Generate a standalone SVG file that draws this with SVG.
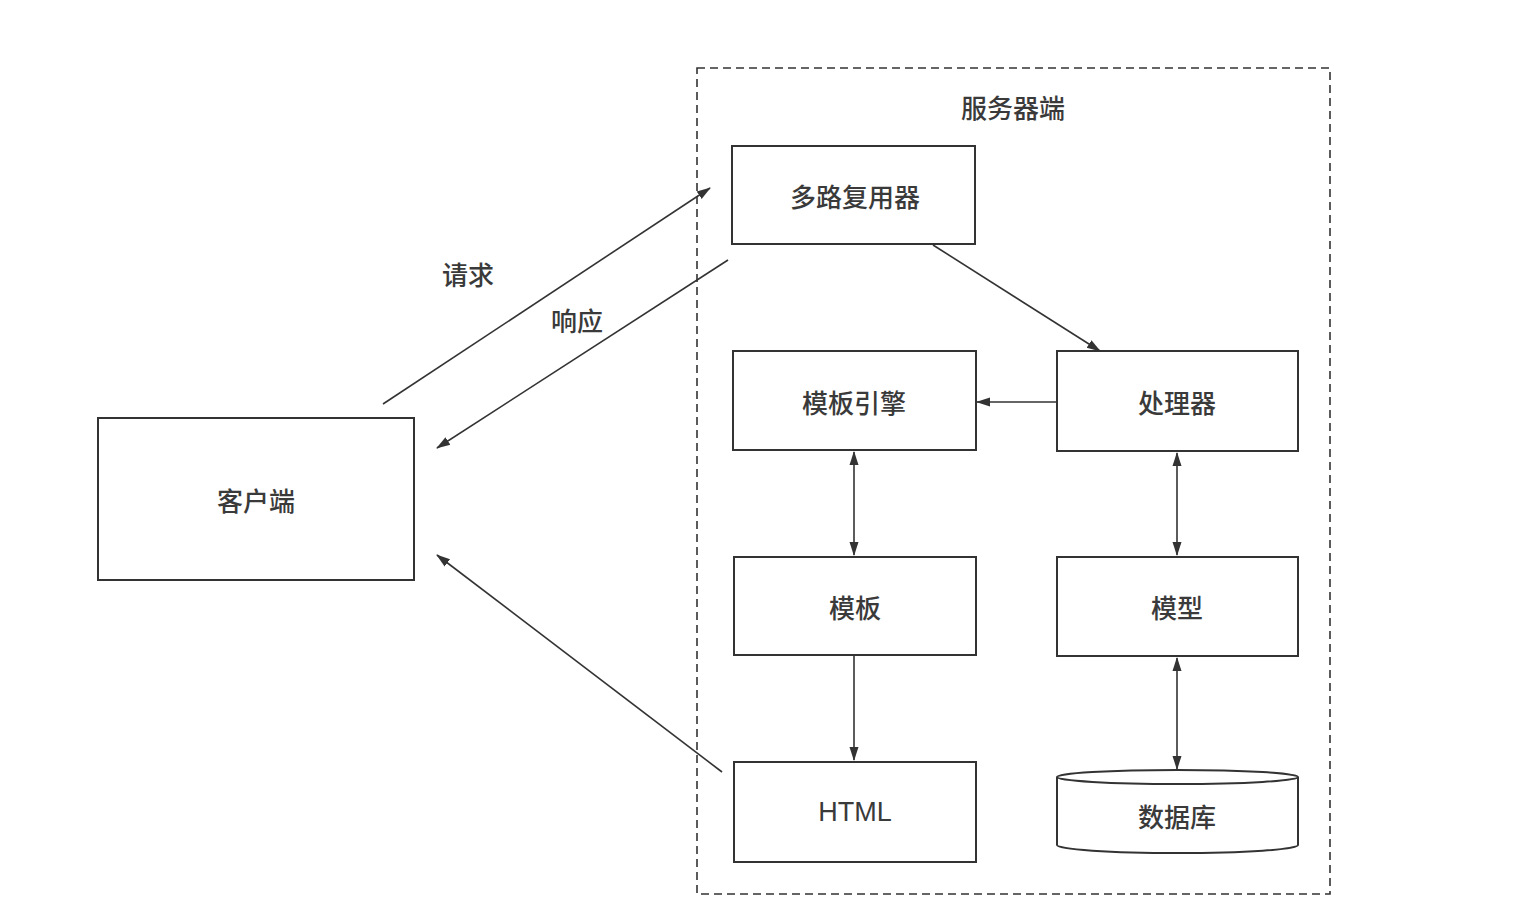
<svg xmlns="http://www.w3.org/2000/svg" width="1522" height="916" viewBox="0 0 1522 916">
<style>
.box{fill:#fff;stroke:#333;stroke-width:2}
.t{font-family:"Noto Sans CJK SC","Noto Sans",sans-serif;font-size:26px;font-weight:500;fill:#3a3a3a;text-anchor:middle;dominant-baseline:central}
.c{fill:none;stroke:#333;stroke-width:1.6}
</style>
<defs>
<marker id="ah" markerWidth="14" markerHeight="12" refX="13" refY="6" orient="auto-start-reverse" markerUnits="userSpaceOnUse" viewBox="0 0 14 12">
<path d="M0,1.5 L14,6 L0,10.5 Z" fill="#333"/>
</marker>
</defs>
<rect width="1522" height="916" fill="#fff"/>
<g id="server">
<rect x="697" y="68" width="633" height="826" fill="none" stroke="#333" stroke-width="1.6" stroke-dasharray="8,5"/>
<text class="t" x="1013" y="106">服务器端</text>
</g>
<g id="client"><rect class="box" x="98" y="418" width="316" height="162"/><text class="t" x="256" y="499">客户端</text></g>
<g id="mux"><rect class="box" x="732" y="146" width="243" height="98"/><text class="t" x="855" y="195">多路复用器</text></g>
<g id="engine"><rect class="box" x="733" y="351" width="243" height="99"/><text class="t" x="854" y="401">模板引擎</text></g>
<g id="handler"><rect class="box" x="1057" y="351" width="241" height="100"/><text class="t" x="1177" y="401">处理器</text></g>
<g id="template"><rect class="box" x="734" y="557" width="242" height="98"/><text class="t" x="855" y="606">模板</text></g>
<g id="model"><rect class="box" x="1057" y="557" width="241" height="99"/><text class="t" x="1177" y="606">模型</text></g>
<g id="html"><rect class="box" x="734" y="762" width="242" height="100"/><text class="t" x="855" y="812" style="font-family:'Liberation Sans',sans-serif;font-size:27px;font-weight:normal">HTML</text></g>
<g id="db">
<path class="box" d="M1057,777 L1057,845 A120.5,8 0 0 0 1298,845 L1298,777"/>
<ellipse class="box" cx="1177.5" cy="777" rx="120.5" ry="7"/>
<text class="t" x="1177" y="815">数据库</text>
</g>
<g id="connectors">
<line class="c" x1="383" y1="404" x2="710" y2="188" marker-end="url(#ah)"/>
<line class="c" x1="728" y1="260" x2="437" y2="448" marker-end="url(#ah)"/>
<line class="c" x1="933" y1="245" x2="1100" y2="351" marker-end="url(#ah)"/>
<line class="c" x1="1057" y1="402" x2="977" y2="402" marker-end="url(#ah)"/>
<line class="c" x1="854" y1="452" x2="854" y2="555" marker-start="url(#ah)" marker-end="url(#ah)"/>
<line class="c" x1="1177" y1="453" x2="1177" y2="555" marker-start="url(#ah)" marker-end="url(#ah)"/>
<line class="c" x1="854" y1="656" x2="854" y2="760" marker-end="url(#ah)"/>
<line class="c" x1="1177" y1="658" x2="1177" y2="769" marker-start="url(#ah)" marker-end="url(#ah)"/>
<line class="c" x1="722" y1="772" x2="437" y2="555" marker-end="url(#ah)"/>
<text class="t" x="468" y="273">请求</text>
<text class="t" x="577" y="319">响应</text>
</g>
</svg>
